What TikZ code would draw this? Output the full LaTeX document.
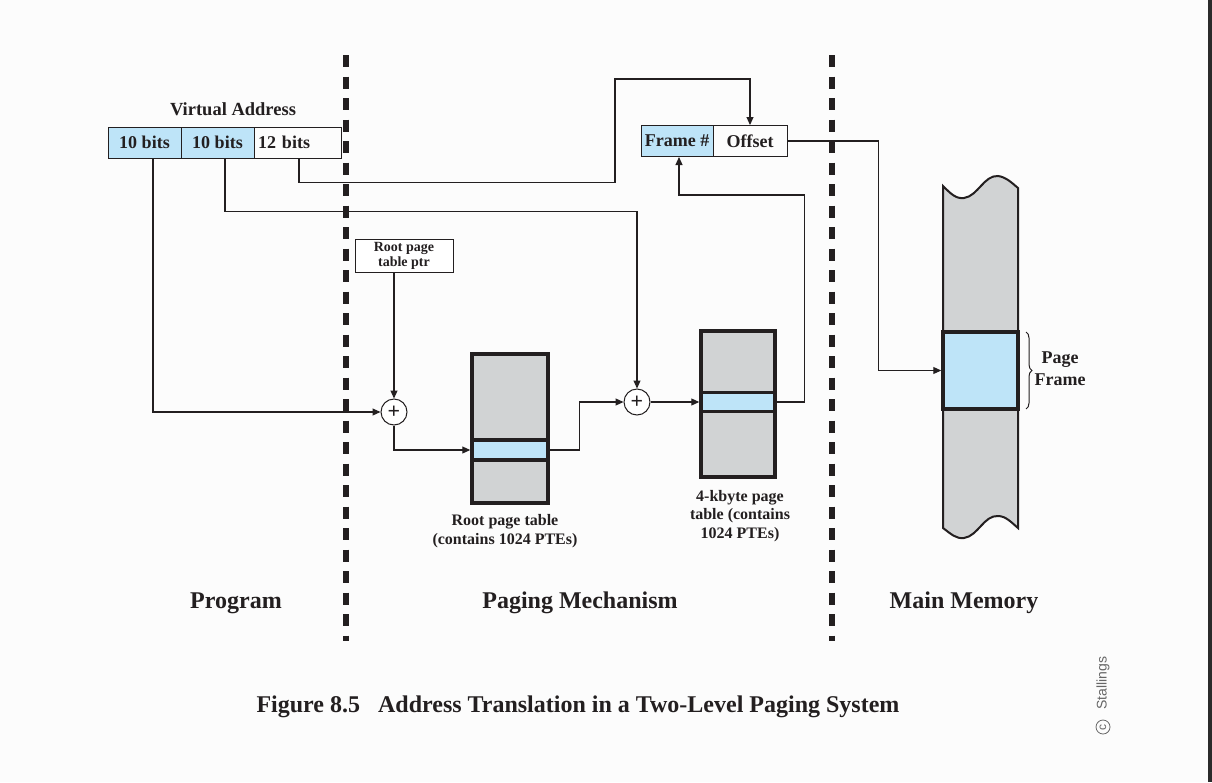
\documentclass[tikz,border=0pt]{standalone}
\usepackage{fontspec}
\setmainfont{Liberation Serif}
\setsansfont{Liberation Sans}
\usetikzlibrary{arrows.meta,decorations.pathreplacing,calc}
\definecolor{pblue}{RGB}{190,228,248}
\definecolor{pgray}{RGB}{209,211,212}
\definecolor{bgc}{RGB}{252,252,252}
\definecolor{ink}{RGB}{35,31,32}
\begin{document}
\begin{tikzpicture}[x=1pt,y=-1pt,
  conn/.style={draw=ink,line width=1.1pt,-{Triangle[length=8pt,width=7pt]}},
  field/.style={draw=ink,line width=1pt,minimum height=31pt,inner sep=0pt,text=ink,font=\fontsize{18}{20}\selectfont\bfseries},
  ptable/.style={draw=ink,fill=pgray,line width=3.5pt,inner sep=0pt},
  pentry/.style={draw=ink,fill=pblue,line width=3.5pt,inner sep=0pt},
  adder/.style={circle,draw=ink,fill=white,line width=1pt,minimum size=26pt,inner sep=0pt,text=ink,font=\fontsize{22}{22}\selectfont\bfseries},
  lbl/.style={text=ink,font=\fontsize{16}{18.5}\selectfont\bfseries,align=center,inner sep=0pt},
  big/.style={text=ink,font=\fontsize{24}{26}\selectfont\bfseries,inner sep=0pt},
  divider/.style={draw=ink,line width=5.5pt,dash pattern=on 12pt off 9.5pt}
]
\fill[bgc] (0,0) rectangle (1212,782);
\useasboundingbox (0,0) rectangle (1212,782);
\fill[black!83] (1208,0) rectangle (1212,782);

% dividers
\draw[divider] (346,55) -- (346,641);
\draw[divider] (832,55) -- (832,641);

% virtual address
\node[text=ink,font=\fontsize{18.5}{20}\selectfont\bfseries] (valbl) at (233,109) {Virtual Address};
\node[field,fill=pblue,minimum width=73pt] (va1) at (144.5,142.5) {10 bits};
\node[field,fill=pblue,minimum width=73pt] (va2) at (217.5,142.5) {10 bits};
\node[field,minimum width=87pt,text width=79pt,align=left] (va3) at (297.5,142.5) {12 bits};

% frame / offset
\node[field,fill=pblue,minimum width=72pt] (frame) at (677,141) {Frame \#};
\node[field,minimum width=74pt] (offset) at (750,141) {Offset};

% root page table ptr
\node[draw=ink,line width=1pt,fill=white,minimum width=98pt,minimum height=33pt,inner sep=0pt,text=ink,align=center,font=\fontsize{14}{15}\selectfont\bfseries] (ptr) at (404,255.5) {Root page\\table ptr};

% adders
\node[adder] (add1) at (394,412) {+};
\node[adder] (add2) at (637,402) {+};

% root page table
\node[ptable,minimum width=76pt,minimum height=149pt] (rpt) at (510,428.5) {};
\node[pentry,minimum width=76pt,minimum height=20pt] (rpte) at (510,450) {};
\node[lbl] (rptlbl) at (505,531) {Root page table\\(contains 1024 PTEs)};

% second level page table
\node[ptable,minimum width=74pt,minimum height=146pt] (pt2) at (738,404) {};
\node[pentry,minimum width=74pt,minimum height=19pt] (pte2) at (738,402) {};
\node[lbl] (pt2lbl) at (740,516) {4-kbyte page\\table (contains\\1024 PTEs)};

% main memory
\draw[draw=ink,fill=pgray,line width=2pt]
  (943,186) .. controls (951,194) and (956,199) .. (964,198)
  .. controls (978,196) and (984,175) .. (998,176)
  .. controls (1006,177) and (1012,183) .. (1018,188)
  -- (1018,528)
  .. controls (1012,523) and (1006,516) .. (998,516)
  .. controls (984,515) and (978,536) .. (964,538)
  .. controls (956,539) and (951,534) .. (943,528) -- cycle;
\node[pentry,minimum width=75pt,minimum height=77pt] (pf) at (980.5,370.5) {};
\draw[draw=ink,line width=1pt,decorate,decoration={brace,amplitude=6pt}] (1026,332) -- (1026,409);
\node[text=ink,font=\fontsize{18}{22}\selectfont\bfseries,align=center,inner sep=0pt] (pflbl) at (1060,369) {Page\\Frame};

% connectors
\draw[conn] ($(va1.south)+(8.5,0)$) |- (add1.west);
\draw[conn] ($(va2.south)+(7.5,0)$) -- ++(0,53) -| (add2.north);
\draw[conn] ($(va3.south)+(1.5,0)$) -- ++(0,24) -| (615,79) -| (offset.north);
\draw[conn] (ptr.south -| add1.north) -- (add1.north);
\draw[conn] (add1.south) |- (rpte.west);
\draw[conn] (rpte.east) -- ++(30,0) |- (add2.west);
\draw[conn] (add2.east) -- (pte2.west);
\draw[conn] (pte2.east) -- ++(28,0) |- ($(frame.south)+(2,38)$) -- ($(frame.south)+(2,0)$);
\draw[conn] (offset.east) -- ++(91,0) |- (pf.west);

% region labels
\node[big] (prog) at (236,603) {Program};
\node[big] (pmech) at (580,603) {Paging Mechanism};
\node[big] (mmem) at (964,603) {Main Memory};
\node[big] (cap) at (578,707) {Figure 8.5\hspace{0.5em} Address Translation in a Two-Level Paging System};

% copyright
\node[rotate=90,text=black!60,inner sep=0pt,font=\sffamily\fontsize{14}{16}\selectfont] (stal) at (1103,683) {Stallings};
\node[circle,draw=black!60,line width=0.8pt,minimum size=14pt,inner sep=0pt,rotate=90,text=black!60,font=\sffamily\fontsize{12}{12}\selectfont] (copyc) at (1103,727) {c};
\end{tikzpicture}
\end{document}
